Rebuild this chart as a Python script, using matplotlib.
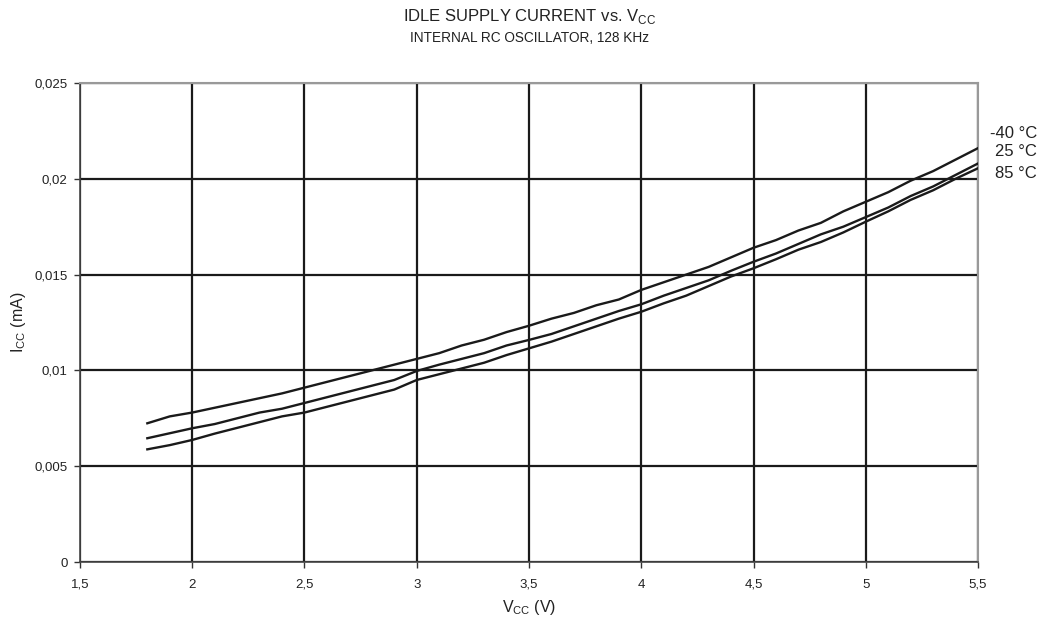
import matplotlib
matplotlib.use("Agg")
import matplotlib.pyplot as plt

plt.rcParams['font.family'] = ['Liberation Sans', 'DejaVu Sans']

vcc = [1.8, 1.9, 2.0, 2.1, 2.2, 2.3, 2.4, 2.5, 2.6, 2.7, 2.8, 2.9, 3.0, 3.1, 3.2, 3.3,
       3.4, 3.5, 3.6, 3.7, 3.8, 3.9, 4.0, 4.1, 4.2, 4.3, 4.4, 4.5, 4.6, 4.7, 4.8, 4.9,
       5.0, 5.1, 5.2, 5.3, 5.4, 5.5]
icc_m40 = [0.00724, 0.00760, 0.00780, 0.00805, 0.00830, 0.00855, 0.00880, 0.00910,
           0.00940, 0.00970, 0.01000, 0.01030, 0.01060, 0.01090, 0.01130, 0.01160,
           0.01200, 0.01233, 0.01270, 0.01300, 0.01340, 0.01370, 0.01420, 0.01460,
           0.01500, 0.01540, 0.01590, 0.01640, 0.01680, 0.01730, 0.01770, 0.01830,
           0.01880, 0.01930, 0.01990, 0.02040, 0.02100, 0.02160]
icc_25 = [0.00646, 0.00672, 0.00698, 0.00720, 0.00750, 0.00780, 0.00800, 0.00830,
          0.00860, 0.00890, 0.00920, 0.00950, 0.00997, 0.01030, 0.01060, 0.01090,
          0.01130, 0.01159, 0.01190, 0.01230, 0.01270, 0.01310, 0.01345, 0.01390,
          0.01430, 0.01470, 0.01520, 0.01567, 0.01610, 0.01660, 0.01710, 0.01750,
          0.01800, 0.01850, 0.01910, 0.01960, 0.02020, 0.02080]
icc_85 = [0.00588, 0.00610, 0.00637, 0.00670, 0.00700, 0.00730, 0.00760, 0.00780,
          0.00810, 0.00840, 0.00870, 0.00900, 0.00950, 0.00980, 0.01010, 0.01040,
          0.01080, 0.01115, 0.01150, 0.01190, 0.01230, 0.01270, 0.01306, 0.01350,
          0.01390, 0.01440, 0.01490, 0.01533, 0.01580, 0.01630, 0.01670, 0.01720,
          0.01776, 0.01830, 0.01890, 0.01940, 0.02000, 0.02055]
series_labels = ['-40 °C', '25 °C', '85 °C']

x_ticks = [1.5, 2.0, 2.5, 3.0, 3.5, 4.0, 4.5, 5.0, 5.5]
x_tick_labels = ['1,5', '2', '2,5', '3', '3,5', '4', '4,5', '5', '5,5']
y_ticks = [0, 0.005, 0.01, 0.015, 0.02, 0.025]
y_tick_labels = ['0', '0,005', '0,01', '0,015', '0,02', '0,025']

fig = plt.figure(figsize=(10.44, 6.23), dpi=100)
ax = fig.add_axes([0.0766, 0.0979, 0.8602, 0.7689])

ax.set_xlim(1.5, 5.5)
ax.set_ylim(0, 0.025)
ax.set_xticks(x_ticks)
ax.set_xticklabels(x_tick_labels, fontsize=9.5, color='#222222')
ax.set_yticks(y_ticks)
ax.set_yticklabels(y_tick_labels, fontsize=9.5, color='#222222')
ax.tick_params(axis='both', direction='out', length=4, width=1, color='#333333')
ax.tick_params(axis='y', pad=5)
ax.tick_params(axis='x', pad=8)

ax.grid(True, color='#1a1a1a', linewidth=1.6)
ax.set_axisbelow(True)

for s in ['left', 'bottom']:
    ax.spines[s].set_color('#444444')
    ax.spines[s].set_linewidth(1.2)
for s in ['top', 'right']:
    ax.spines[s].set_color('#999999')
    ax.spines[s].set_linewidth(1.5)

for ys in (icc_m40, icc_25, icc_85):
    ax.plot(vcc, ys, color='#1a1a1a', linewidth=1.7, zorder=3)

label_y = [0.02234, 0.02142, 0.02025]
for lab, yy in zip(series_labels, label_y):
    ax.text(1.0657, yy, lab, transform=ax.get_yaxis_transform(), ha='right',
            va='center', fontsize=12, color='#222222', clip_on=False)

ax.set_xlabel(r'V$_{\mathregular{CC}}$ (V)', fontsize=11.5, color='#222222')
ax.xaxis.label.set_va('center')
ax.xaxis.set_label_coords(0.5, -(607 - 562) / 479)
ax.set_ylabel(r'I$_{\mathregular{CC}}$ (mA)', fontsize=11.5, color='#222222')
ax.yaxis.label.set_va('center')
ax.yaxis.set_label_coords((18.5 - 80) / 898, 0.5)

fig.text(0.507, 1 - 17 / 623, r'IDLE SUPPLY CURRENT vs. V$_{\mathregular{CC}}$', ha='center',
         va='center', fontsize=12, color='#222222')
fig.text(0.507, 1 - 38 / 623, 'INTERNAL RC OSCILLATOR, 128 KHz', ha='center', va='center',
         fontsize=9.8, color='#222222')

fig.savefig('out.png', dpi=100)
